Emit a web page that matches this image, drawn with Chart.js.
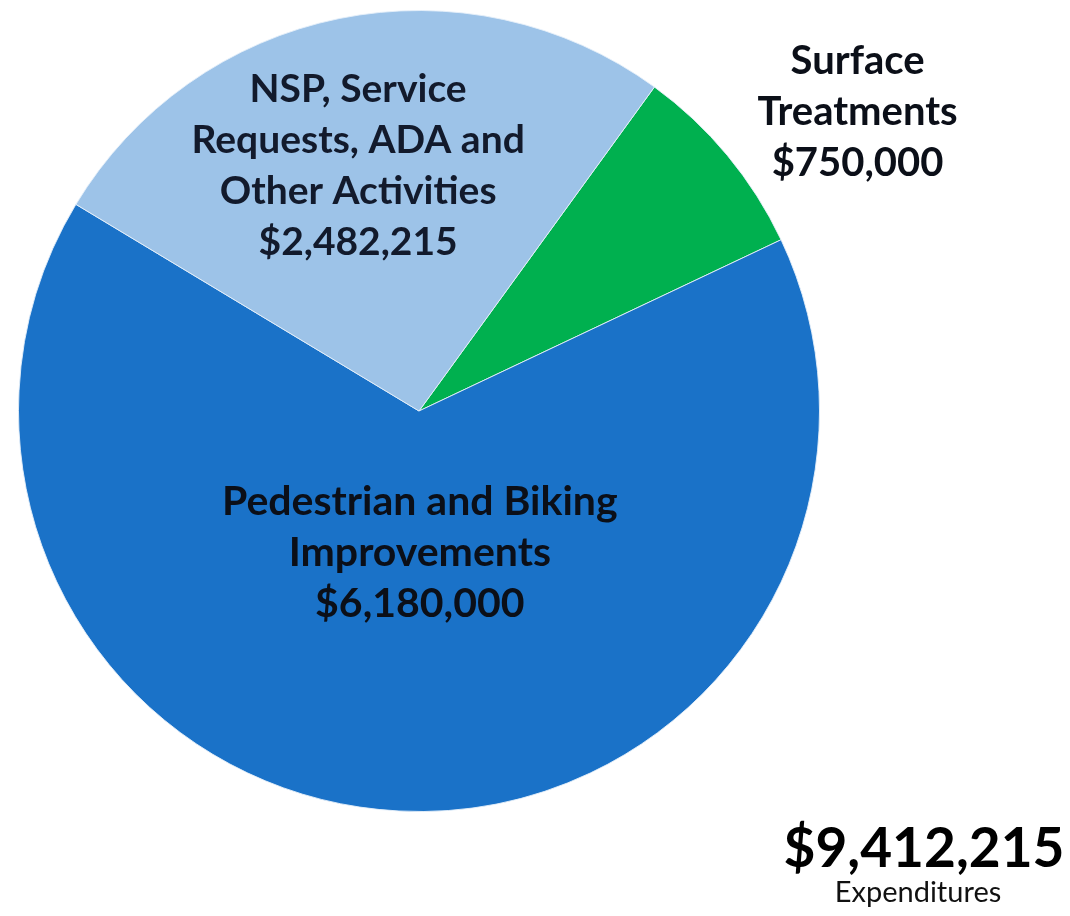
<!DOCTYPE html>
<html>
<head>
<meta charset="utf-8">
<script src="https://cdn.jsdelivr.net/npm/chart.js@4"></script>
<style>
  html,body{margin:0;padding:0;background:#fff;}
  #wrap{position:relative;width:1070px;height:916px;}
  canvas{display:block;}
</style>
</head>
<body>
<div id="wrap"><canvas id="c" width="1070" height="916"></canvas></div>
<script>
// Data
const categories = ["Surface Treatments", "Pedestrian and Biking Improvements", "NSP, Service Requests, ADA and Other Activities"];
const values = [750000, 6180000, 2482215];
const labelLines = [
  ["Surface", "Treatments", "$750,000"],
  ["Pedestrian and Biking", "Improvements", "$6,180,000"],
  ["NSP, Service", "Requests, ADA and", "Other Activities", "$2,482,215"]
];
const totalText = "$9,412,215";
const totalCaption = "Expenditures";

// Styles / layout
const colors = ["#00b04f", "#1a72c8", "#9dc3e8"];
// label centre positions relative to pie centre, in units of radius (x, y of first line)
const labelAnchors = [[1.095, -0.873], [0.002, 0.227], [-0.152, -0.803]];
const labelSizes = [40, 41, 39];
const lineHeight = 51;
const fontFamily = "Lato, 'Open Sans', sans-serif";

const labelPlugin = {
  id: 'sliceLabels',
  afterDraw(chart) {
    const ctx = chart.ctx;
    const arc = chart.getDatasetMeta(0).data[0];
    const cx = arc.x, cy = arc.y, r = arc.outerRadius;
    ctx.save();
    ctx.textAlign = 'center';
    ctx.textBaseline = 'middle';
    labelLines.forEach((lines, i) => {
      ctx.fillStyle = i === 2 ? '#121a2c' : '#0b0f18';
      ctx.font = "bold " + labelSizes[i] + "px " + fontFamily;
      const ax = cx + labelAnchors[i][0] * r;
      const ay = cy + labelAnchors[i][1] * r;
      lines.forEach((t, j) => ctx.fillText(t, ax, ay + j * lineHeight));
    });
    ctx.fillStyle = '#000';
    ctx.font = "bold 55px " + fontFamily;
    ctx.fillText(totalText, 924, 849);
    ctx.font = "29px " + fontFamily;
    ctx.fillStyle = '#111';
    ctx.fillText(totalCaption, 918, 893);
    ctx.restore();
  }
};

new Chart(document.getElementById('c'), {
  type: 'pie',
  data: {
    labels: categories,
    datasets: [{
      data: values,
      backgroundColor: colors,
      borderColor: 'rgba(230,240,250,0.9)',
      borderWidth: 1
    }]
  },
  options: {
    responsive: false,
    animation: false,
    rotation: 36,
    layout: { padding: { left: 18, top: 10, right: 250, bottom: 104 } },
    plugins: { legend: { display: false }, tooltip: { enabled: false } }
  },
  plugins: [labelPlugin]
});
</script>
</body>
</html>
